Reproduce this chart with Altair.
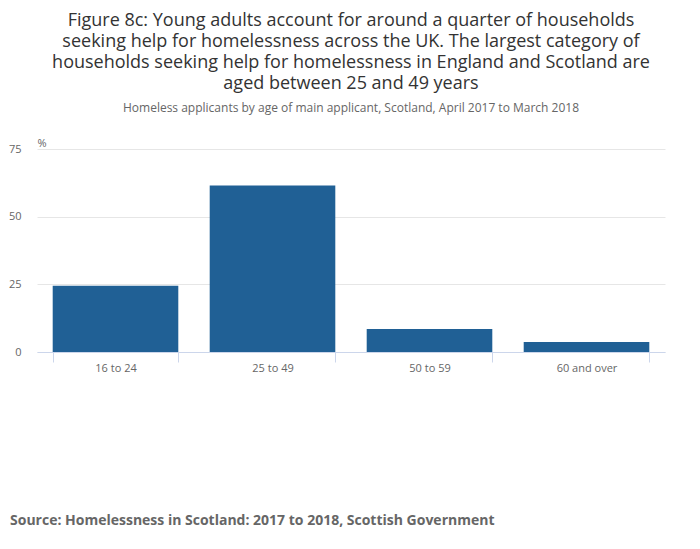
import altair as alt
import pandas as pd

categories = ["16 to 24", "25 to 49", "50 to 59", "60 and over"]
values = [24.5, 61.5, 8.5, 3.7]

title_lines = [
    "Figure 8c: Young adults account for around a quarter of households",
    "seeking help for homelessness across the UK. The largest category of",
    "households seeking help for homelessness in England and Scotland are",
    "aged between 25 and 49 years",
]
subtitle = "Homeless applicants by age of main applicant, Scotland, April 2017 to March 2018"
source = "Source: Homelessness in Scotland: 2017 to 2018, Scottish Government"

df = pd.DataFrame({"age": categories, "pct": values})
FONT = "Open Sans"

bars = alt.Chart(df).mark_bar(color="#206095").encode(
    x=alt.X("age:N", sort=categories, title=None,
            scale=alt.Scale(paddingInner=0.2, paddingOuter=0.1),
            axis=alt.Axis(labelAngle=0, tickBand="extent", tickSize=10,
                          tickColor="#ccd6eb", domainColor="#ccd6eb",
                          labelColor="#666666", labelFontSize=11, labelFont=FONT,
                          labelPadding=0)),
    y=alt.Y("pct:Q", scale=alt.Scale(domain=[0, 75]),
            axis=alt.Axis(values=[0, 25, 50, 75], title="%", titleAngle=0,
                          titleAlign="left", titleBaseline="bottom", titleX=0, titleY=-1,
                          titleFont=FONT, titleFontSize=11, titleFontWeight="normal",
                          titleColor="#666666",
                          domain=False, ticks=False, labelPadding=16,
                          labelColor="#666666", labelFontSize=11, labelFont=FONT,
                          gridColor="#e6e6e6")),
)

src = alt.Chart(pd.DataFrame({"t": [source]})).mark_text(
    align="left", baseline="middle", font=FONT, fontSize=14, fontWeight="bold",
    color="#666666"
).encode(x=alt.value(-27), y=alt.value(372), text="t:N")

chart = alt.layer(bars, src).properties(
    width=628, height=203,
    autosize=alt.AutoSizeParams(type="none"),
    padding={"left": 29, "top": 141, "right": 27, "bottom": 189},
    title=alt.TitleParams(
        text=title_lines, subtitle=subtitle, anchor="middle", frame="group",
        font=FONT, fontSize=18, fontWeight="normal", color="#333333", lineHeight=21,
        subtitleFont=FONT, subtitleFontSize=12, subtitleColor="#666666",
        subtitlePadding=10, offset=23,
    ),
).configure_view(stroke=None)

chart.save("out.html", embed_options={"renderer": "svg", "actions": False})
